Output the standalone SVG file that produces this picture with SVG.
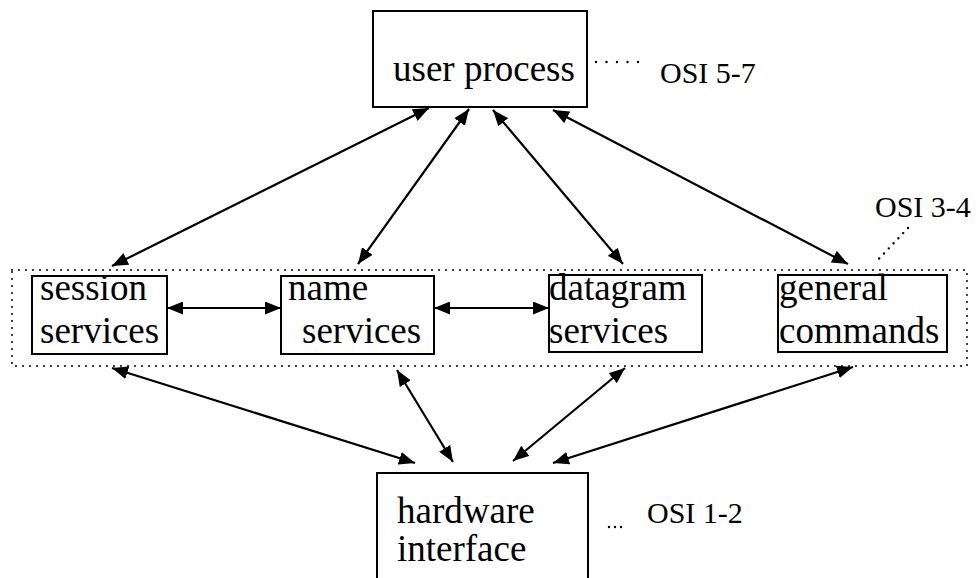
<svg xmlns="http://www.w3.org/2000/svg" width="980" height="578" viewBox="0 0 980 578">
<style>
.box{fill:#fff;stroke:#000;stroke-width:2}
.t{font-family:"Liberation Serif","Times New Roman",serif;font-size:37px;fill:#000}
.osi{font-family:"Liberation Serif","Times New Roman",serif;font-size:30px;fill:#000}
.c{stroke:#000;stroke-width:2.2;fill:none;marker-start:url(#ah);marker-end:url(#ah)}
.dot{stroke:#000;stroke-width:2.4;fill:none;stroke-linecap:round}
</style>
<defs>
<marker id="ah" markerUnits="userSpaceOnUse" markerWidth="17" markerHeight="13" refX="16" refY="6.5" orient="auto-start-reverse">
<path d="M0,0 L16,6.5 L0,13 Z" fill="#000"/>
</marker>
</defs>
<rect width="980" height="578" fill="#fff"/>
<g id="layer-group">
<rect x="12" y="270" width="955" height="96" fill="none" stroke="#000" stroke-width="2" stroke-dasharray="0 7" stroke-linecap="round"/>
</g>
<g id="user-process">
<rect class="box" x="373" y="11" width="214" height="96"/>
<text class="t" x="393" y="81">user process</text>
<path class="dot" d="M596,62 H638.5" stroke-dasharray="0 10.5"/>
<text class="osi" x="660" y="83">OSI 5-7</text>
</g>
<g id="osi34">
<text class="osi" x="875" y="217">OSI 3-4</text>
<path class="dot" d="M908,228 L875,263" stroke-dasharray="0 7"/>
</g>
<g id="session-services">
<rect class="box" x="32" y="276" width="135" height="78"/>
<text class="t" x="40" y="300">session</text>
<text class="t" x="40" y="343">services</text>
</g>
<g id="name-services">
<rect class="box" x="281" y="276" width="153" height="78"/>
<text class="t" x="288" y="300">name</text>
<text class="t" x="302" y="343">services</text>
</g>
<g id="datagram-services">
<rect class="box" x="549" y="275" width="153" height="77"/>
<text class="t" x="549" y="300">datagram</text>
<text class="t" x="549" y="343">services</text>
</g>
<g id="general-commands">
<rect class="box" x="778" y="275" width="169" height="77"/>
<text class="t" x="779" y="300">general</text>
<text class="t" x="779" y="343">commands</text>
</g>
<g id="hardware-interface">
<rect class="box" x="377" y="473" width="211" height="120"/>
<text class="t" x="397" y="523">hardware</text>
<text class="t" x="397" y="561">interface</text>
<path class="dot" d="M609,527 H621.5" stroke-dasharray="0 6"/>
<text class="osi" x="647" y="523">OSI  1-2</text>
</g>
<g id="connectors">
<line class="c" x1="429" y1="108" x2="112" y2="266"/>
<line class="c" x1="469" y1="109" x2="358" y2="264"/>
<line class="c" x1="493" y1="110" x2="623" y2="264"/>
<line class="c" x1="553" y1="110" x2="848" y2="264"/>
<line class="c" x1="167" y1="308" x2="281" y2="308"/>
<line class="c" x1="434" y1="308" x2="549" y2="308"/>
<line class="c" x1="112" y1="368" x2="415" y2="463"/>
<line class="c" x1="397" y1="370" x2="453" y2="462"/>
<line class="c" x1="625" y1="368" x2="513" y2="461"/>
<line class="c" x1="853" y1="367" x2="553" y2="463"/>
</g>
</svg>
